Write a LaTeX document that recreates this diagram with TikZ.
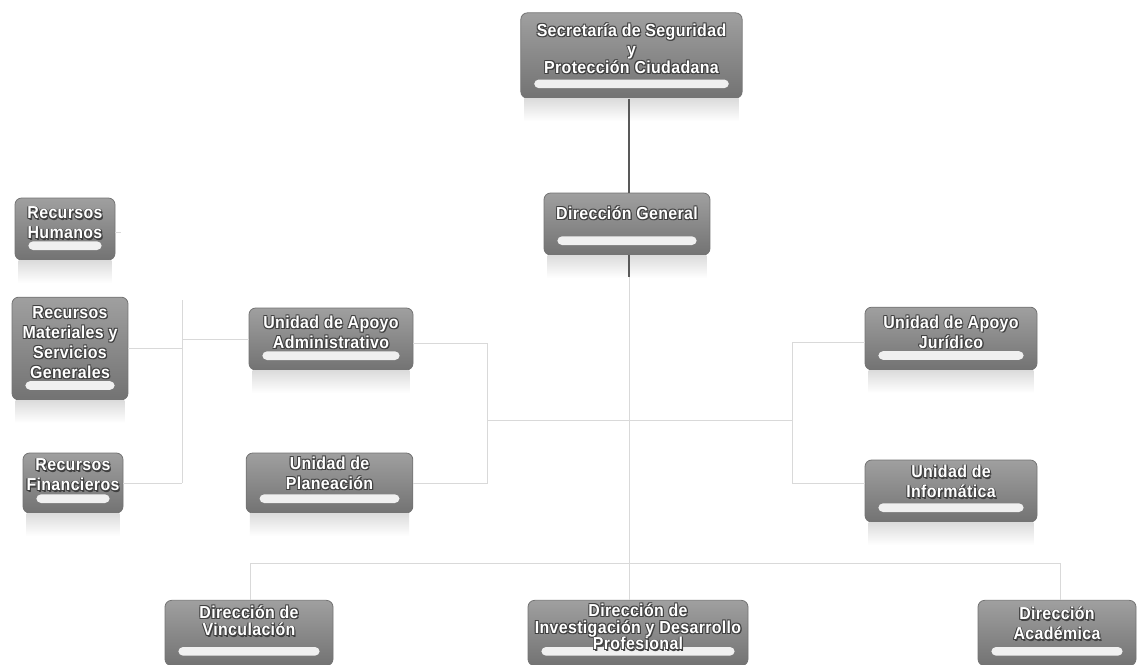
\documentclass[tikz,border=0pt]{standalone}
\usepackage{fontspec}
\newfontfamily\boxfont[LetterSpace=2.0,FakeStretch=0.92]{Liberation Sans}
\tikzset{
 obx/.style={rectangle, rounded corners=5pt, draw=black!55, line width=0.6pt,
   top color=gray!75, bottom color=gray!90!black, inner sep=0pt,
   path picture={\fill[white!88!gray,rounded corners=3.5pt]
     ([xshift=10pt,yshift=7.5pt]path picture bounding box.south west) rectangle
     ([xshift=-10pt,yshift=14pt]path picture bounding box.south east);}},
 otxt/.style={font=\boxfont\bfseries\fontsize{13}{15}\selectfont, text=white, align=center, inner sep=0pt},
 oshd/.style={otxt, text=black!75},
 refl/.style={top color=gray!28, bottom color=white},
 trunk/.style={draw=black!65, line width=2pt},
 lnk/.style={draw=gray!30, line width=0.6pt},
}
\newcommand\obox[7]{%
 \node[obx, minimum width=#4, minimum height=#5] (#1) at (#2,#3) {};
 \shade[refl] ([xshift=3pt]#1.south west) rectangle ([xshift=-3pt,yshift=-17pt]#1.south east);
 \foreach \dx/\dy in {0.6/0.6,-0.6/0.6,0.6/-0.6,-0.6/-0.6,0.9/-0.9}{\node[oshd] at ([xshift=\dx pt,yshift=\dy pt+#7]#1.center) {#6};}
 \node[otxt] (#1t) at ([yshift=#7]#1.center) {#6};
}
\begin{document}
\begin{tikzpicture}[x=0.75pt,y=-0.75pt]
\useasboundingbox (0,0) rectangle (1138,664);
\fill[white] (0,0) rectangle (1138,664);
% boxes
\obox{sec}{631.5}{55.5}{166pt}{64pt}{Secretaría de Seguridad\\[-1pt]y\\[-1pt]Protección Ciudadana}{5pt}
\obox{dg}{627}{224}{124.5pt}{46.5pt}{Dirección General}{8pt}
\obox{rh}{65}{229}{75pt}{46.5pt}{Recursos\\Humanos}{4.5pt}
\obox{rm}{70}{348.5}{87pt}{77pt}{Recursos\\Materiales y\\Servicios\\Generales}{4.5pt}
\obox{rf}{73}{483}{75pt}{45pt}{Recursos\\Financieros}{6pt}
\obox{uaa}{331}{339}{123pt}{46.5pt}{Unidad de Apoyo\\Administrativo}{5pt}
\obox{up}{329.5}{483}{125pt}{45pt}{Unidad de\\Planeación}{7.5pt}
\obox{uaj}{951}{338.5}{129pt}{47pt}{Unidad de Apoyo\\Jurídico}{5pt}
\obox{ui}{951}{491}{129pt}{46.5pt}{Unidad de\\Informática}{7pt}
\obox{dv}{249}{633}{126pt}{49pt}{Dirección de\\[-2pt]Vinculación}{9pt}
\obox{dip}{638}{633}{165pt}{49pt}{Dirección de\\[-2.5pt]Investigación y Desarrollo\\[-2.5pt]Profesional}{4.5pt}
\obox{da}{1057}{633}{118.5pt}{49pt}{Dirección\\Académica}{7pt}
% connector coordinates
\coordinate (mx) at (629,277);
\coordinate (lb) at (487,420);
\coordinate (rb) at (792,420);
\coordinate (fb) at (182,300);
\coordinate (fbe) at (182,483);
\coordinate (bl) at (250,563);
\coordinate (br) at (1060,563);
\coordinate (rhs) at (121,232);
\coordinate (uae) at ([yshift=-3pt]uaa.east);
\coordinate (ujw) at ([yshift=-3pt]uaj.west);
\coordinate (uiw) at ([yshift=6pt]ui.west);
% trunk
\draw[trunk] (sec.south -| mx) -- (dg.north -| mx);
\draw[trunk] (dg.south -| mx) -- (mx);
% light connectors
\draw[lnk] (mx) -- (dip.north -| mx);
\draw[lnk] (lb) -- (rb);
\draw[lnk] (uae) -- (uae -| lb) -- (up.east -| lb) -- (up.east);
\draw[lnk] (ujw) -- (ujw -| rb) -- (uiw -| rb) -- (uiw);
\draw[lnk] (fb) -- (fbe);
\draw[lnk] (rm.east) -- (rm.east -| fb);
\draw[lnk] (rf.east) -- (rf.east -| fb);
\draw[lnk] (uaa.west) -- (uaa.west -| fb);
\draw[lnk] (rh.east |- rhs) -- (rhs);
\draw[lnk] (bl) -- (br);
\draw[lnk] (bl) -- (dv.north -| bl);
\draw[lnk] (br) -- (da.north -| br);
\end{tikzpicture}
\end{document}
